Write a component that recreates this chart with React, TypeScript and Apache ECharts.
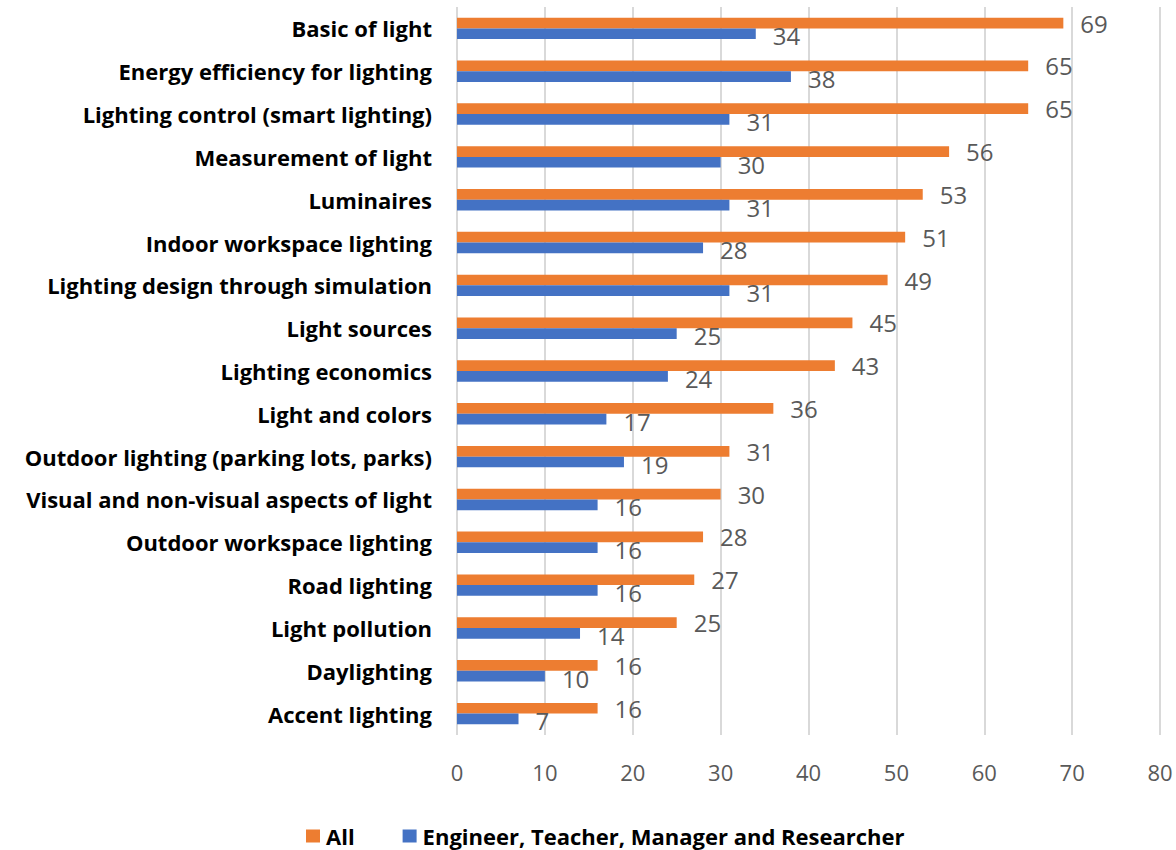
import React, { useEffect, useRef } from "react";
import * as echarts from "echarts";

const categories = [
  "Basic of light",
  "Energy efficiency for lighting",
  "Lighting control (smart lighting)",
  "Measurement of light",
  "Luminaires",
  "Indoor workspace lighting",
  "Lighting design through simulation",
  "Light sources",
  "Lighting economics",
  "Light and colors",
  "Outdoor lighting (parking lots, parks)",
  "Visual and non-visual aspects of light",
  "Outdoor workspace lighting",
  "Road lighting",
  "Light pollution",
  "Daylighting",
  "Accent lighting",
];
const allValues = [69, 65, 65, 56, 53, 51, 49, 45, 43, 36, 31, 30, 28, 27, 25, 16, 16];
const engValues = [34, 38, 31, 30, 31, 28, 31, 25, 24, 17, 19, 16, 16, 16, 14, 10, 7];
const xTicks = { min: 0, max: 80, interval: 10 };

export default function App() {
  const ref = useRef<HTMLDivElement>(null);
  useEffect(() => {
    const chart = echarts.init(ref.current!, null, { renderer: "svg" });
    const font = "'Open Sans', sans-serif";
    chart.setOption({
      animation: false,
      grid: { left: 457, right: 16, top: 7, bottom: 115, containLabel: false },
      legend: {
        top: 825,
        left: 306,
        padding: 0,
        itemWidth: 14,
        itemHeight: 13,
        itemGap: 48,
        icon: "rect",
        textStyle: { fontFamily: font, fontWeight: "bold", fontSize: 22, color: "#000", padding: [0, 0, 0, 1] },
        data: ["All", "Engineer, Teacher, Manager and Researcher"],
      },
      xAxis: {
        type: "value",
        min: xTicks.min,
        max: xTicks.max,
        interval: xTicks.interval,
        axisLine: { show: false },
        axisTick: { show: false },
        axisLabel: { color: "#595959", fontSize: 22, fontFamily: font, margin: 26 },
        splitLine: { lineStyle: { color: "#D9D9D9", width: 2 } },
      },
      yAxis: {
        type: "category",
        inverse: true,
        data: categories,
        axisLine: { show: false },
        axisTick: { show: false },
        axisLabel: { color: "#000", fontSize: 22, fontWeight: "bold", fontFamily: font, margin: 25 },
      },
      series: [
        {
          name: "All",
          type: "bar",
          data: allValues,
          barGap: "0%",
          barCategoryGap: "50%",
          itemStyle: { color: "#ED7D31" },
          label: {
            show: true,
            position: "right",
            distance: 17,
            color: "#595959",
            fontSize: 24,
            fontFamily: font,
          },
        },
        {
          name: "Engineer, Teacher, Manager and Researcher",
          type: "bar",
          data: engValues,
          itemStyle: { color: "#4472C4" },
          label: {
            show: true,
            position: "right",
            distance: 17,
            offset: [0, 2],
            color: "#595959",
            fontSize: 24,
            fontFamily: font,
          },
        },
      ],
    });
    return () => chart.dispose();
  }, []);
  return (
    <div
      ref={ref}
      style={{ position: "absolute", left: 0, top: 0, width: 1176, height: 850 }}
    />
  );
}
